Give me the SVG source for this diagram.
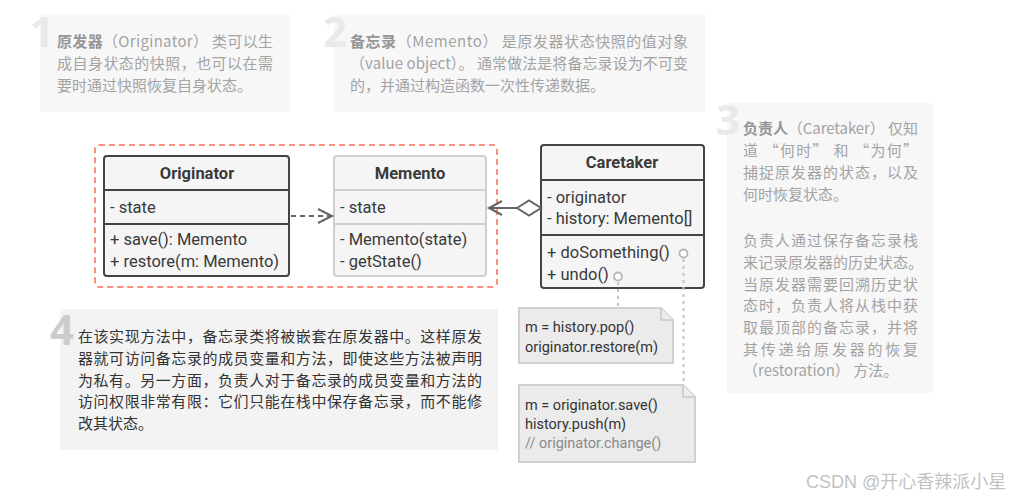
<svg xmlns="http://www.w3.org/2000/svg" width="1020" height="498" viewBox="0 0 1020 498">
<style>
.panel{fill:#f7f7f7}
.panel4{fill:#f3f3f3}
.num{font-family:"Open Sans","Noto Sans",sans-serif;font-weight:700;font-size:42px;fill:#e9e9e9}
.num4{fill:#cccccc}
.cn{font-family:"Noto Sans CJK SC","Noto Sans",sans-serif;font-size:15px;fill:#a3a3a3}
.cnb{font-weight:700;fill:#959595}
.cn4{fill:#333}
.box{fill:#f5f5f5;stroke:#444;stroke-width:2}
.boxl{fill:#f5f5f5;stroke:#cfcfcf;stroke-width:2}
.div{stroke:#444;stroke-width:2}
.divl{stroke:#cfcfcf;stroke-width:2}
.t{font-family:Roboto,"Noto Sans",sans-serif;font-size:16.5px;fill:#3a3a3a}
.h{font-weight:700;text-anchor:middle}
.note{fill:#ebebeb;stroke:#d0d0d0;stroke-width:2;stroke-linejoin:round}
.nt{font-family:Roboto,"Noto Sans",sans-serif;font-size:14.5px;fill:#333}
.cm{fill:#8a8a8a}
.arr{stroke:#666;stroke-width:2;fill:none}
.dot{stroke:#c4c4c4;stroke-width:2;stroke-dasharray:3 4;fill:none}
.circ{fill:#fff;stroke:#b5b5b5;stroke-width:1.8}
</style>

<g id="panel1">
<rect class="panel" x="40" y="14" width="250" height="98"/>
<text class="num" x="30" y="47">1</text>
<text class="cn" x="57" y="47" textLength="216" lengthAdjust="spacing"><tspan class="cnb">原发器</tspan>（Originator） 类可以生</text>
<text class="cn" x="57" y="69" textLength="216" lengthAdjust="spacing">成自身状态的快照，也可以在需</text>
<text class="cn" x="57" y="91">要时通过快照恢复自身状态。</text>
</g>

<g id="panel2">
<rect class="panel" x="334" y="14" width="371" height="98"/>
<text class="num" x="323" y="47">2</text>
<text class="cn" x="350" y="47" textLength="338" lengthAdjust="spacing"><tspan class="cnb">备忘录</tspan>（Memento） 是原发器状态快照的值对象</text>
<text class="cn" x="350" y="69" textLength="338" lengthAdjust="spacing">（value object）。 通常做法是将备忘录设为不可变</text>
<text class="cn" x="350" y="91">的，并通过构造函数一次性传递数据。</text>
</g>

<g id="panel3">
<rect class="panel" x="727" y="103" width="206" height="290"/>
<text class="num" x="716" y="135">3</text>
<text class="cn" x="743" y="134" textLength="175" lengthAdjust="spacing"><tspan class="cnb">负责人</tspan>（Caretaker） 仅知</text>
<text class="cn" x="743" y="156" textLength="175" lengthAdjust="spacing">道 “何时” 和 “为何”</text>
<text class="cn" x="743" y="178" textLength="175" lengthAdjust="spacing">捕捉原发器的状态，以及</text>
<text class="cn" x="743" y="200">何时恢复状态。</text>
<text class="cn" x="743" y="246" textLength="175" lengthAdjust="spacing">负责人通过保存备忘录栈</text>
<text class="cn" x="743" y="268">来记录原发器的历史状态。</text>
<text class="cn" x="743" y="290" textLength="175" lengthAdjust="spacing">当原发器需要回溯历史状</text>
<text class="cn" x="743" y="311" textLength="175" lengthAdjust="spacing">态时，负责人将从栈中获</text>
<text class="cn" x="743" y="333" textLength="175" lengthAdjust="spacing">取最顶部的备忘录，并将</text>
<text class="cn" x="743" y="355" textLength="175" lengthAdjust="spacing">其传递给原发器的恢复</text>
<text class="cn" x="743" y="376">（restoration） 方法。</text>
</g>

<g id="panel4">
<rect class="panel4" x="60" y="309" width="438" height="141"/>
<text class="num num4" x="50" y="345">4</text>
<text class="cn cn4" x="78" y="342" textLength="404" lengthAdjust="spacing">在该实现方法中，备忘录类将被嵌套在原发器中。这样原发</text>
<text class="cn cn4" x="78" y="364" textLength="404" lengthAdjust="spacing">器就可访问备忘录的成员变量和方法，即使这些方法被声明</text>
<text class="cn cn4" x="78" y="386" textLength="404" lengthAdjust="spacing">为私有。另一方面，负责人对于备忘录的成员变量和方法的</text>
<text class="cn cn4" x="78" y="407" textLength="404" lengthAdjust="spacing">访问权限非常有限：它们只能在栈中保存备忘录，而不能修</text>
<text class="cn cn4" x="78" y="429">改其状态。</text>
</g>

<g id="nested-boundary">
<rect x="95" y="145" width="402" height="142" rx="4" fill="none" stroke="#fa8f80" stroke-width="2" stroke-dasharray="6 4"/>
</g>

<g id="originator">
<rect class="box" x="104" y="156" width="185" height="120" rx="3"/>
<line class="div" x1="104" y1="190" x2="289" y2="190"/>
<line class="div" x1="104" y1="224" x2="289" y2="224"/>
<text class="t h" x="197" y="179">Originator</text>
<text class="t" x="110" y="213">- state</text>
<text class="t" x="110" y="245">+ save(): Memento</text>
<text class="t" x="110" y="267">+ restore(m: Memento)</text>
</g>

<g id="memento">
<rect class="boxl" x="334" y="156" width="152" height="120" rx="3"/>
<line class="divl" x1="334" y1="190" x2="486" y2="190"/>
<line class="divl" x1="334" y1="224" x2="486" y2="224"/>
<text class="t h" x="410" y="179">Memento</text>
<text class="t" x="340" y="213">- state</text>
<text class="t" x="340" y="245">- Memento(state)</text>
<text class="t" x="340" y="267">- getState()</text>
</g>

<g id="caretaker">
<rect class="box" x="541" y="145" width="163" height="143" rx="3"/>
<line class="div" x1="541" y1="180" x2="704" y2="180"/>
<line class="div" x1="541" y1="235" x2="704" y2="235"/>
<text class="t h" x="622" y="168">Caretaker</text>
<text class="t" x="547" y="203">- originator</text>
<text class="t" x="547" y="224">- history: Memento[]</text>
<text class="t" x="547" y="258">+ doSomething()</text>
<text class="t" x="547" y="280">+ undo()</text>
</g>

<g id="note-undo">
<path class="note" d="M519,308 H661 L673,320 V363 H519 Z"/>
<path class="note" d="M661,308 V320 H673"/>
<text class="nt" x="525" y="332">m = history.pop()</text>
<text class="nt" x="525" y="352">originator.restore(m)</text>
</g>

<g id="note-do">
<path class="note" d="M519,385 H683 L695,397 V462 H519 Z"/>
<path class="note" d="M683,385 V397 H695"/>
<text class="nt" x="525" y="410">m = originator.save()</text>
<text class="nt" x="525" y="429">history.push(m)</text>
<text class="nt cm" x="525" y="448">// originator.change()</text>
</g>

<g id="connectors">
<line class="arr" x1="291" y1="216" x2="331" y2="216" stroke-dasharray="5 4"/>
<polyline class="arr" points="318,209 332,216 318,223"/>
<line class="arr" x1="489" y1="208" x2="517" y2="208"/>
<polyline class="arr" points="502,201 489,208 502,215"/>
<polygon points="517,208 529,200.5 541,208 529,215.5" fill="#fff" stroke="#666" stroke-width="2"/>
<line class="dot" x1="618" y1="282" x2="618" y2="307"/>
<line class="dot" x1="683.5" y1="259" x2="683.5" y2="384"/>
<circle class="circ" cx="618" cy="276.5" r="4"/>
<circle class="circ" cx="683.5" cy="253.5" r="4"/>
</g>

<text x="806" y="488" font-family="'Liberation Sans','Noto Sans CJK SC',sans-serif" font-size="18" fill="#c2c2c2">CSDN @开心香辣派小星</text>
</svg>
